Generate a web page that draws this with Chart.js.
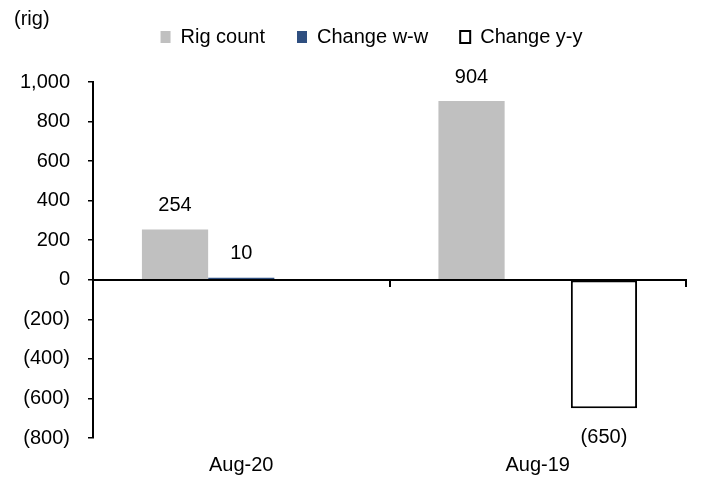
<!DOCTYPE html>
<html>
<head>
<meta charset="utf-8">
<title>Rig count</title>
<script src="https://cdn.jsdelivr.net/npm/chart.js@4/dist/chart.umd.min.js"></script>
<style>
  html, body { margin: 0; padding: 0; background: #ffffff; }
  #wrap { width: 708px; height: 477px; position: relative; }
</style>
</head>
<body>
<div id="wrap"><canvas id="chart" width="708" height="477"></canvas></div>
<script>
// Categories and series
const categories = ['Aug-20', 'Aug-19'];
const rigCount = [254, 904];
const changeWoW = [10, null];
const changeYoY = [null, -650];

// Value axis ticks
const yMin = -800;
const yMax = 1000;
const yStep = 200;

const unitLabel = '(rig)';
const FONT = 'Liberation Sans, Arial, sans-serif';
const FONT_SIZE = 20;

function fmtNumber(v) {
  const s = Math.abs(v).toLocaleString('en-US');
  return v < 0 ? '(' + s + ')' : s;
}

// Unit caption in the top-left corner
const unitCaption = {
  id: 'unitCaption',
  afterDraw(chart) {
    const ctx = chart.ctx;
    ctx.save();
    ctx.font = FONT_SIZE + 'px ' + FONT;
    ctx.fillStyle = '#000';
    ctx.textAlign = 'left';
    ctx.textBaseline = 'alphabetic';
    ctx.fillText(unitLabel, 14, 25);
    ctx.restore();
  }
};

// Value labels above positive bars and below negative bars
const valueLabels = {
  id: 'valueLabels',
  afterDatasetsDraw(chart) {
    const ctx = chart.ctx;
    ctx.save();
    ctx.font = FONT_SIZE + 'px ' + FONT;
    ctx.fillStyle = '#000';
    ctx.textAlign = 'center';
    ctx.textBaseline = 'middle';
    chart.data.datasets.forEach((ds, i) => {
      const meta = chart.getDatasetMeta(i);
      meta.data.forEach((bar, j) => {
        const v = ds.data[j];
        if (v === null || v === undefined) return;
        const y = v >= 0 ? bar.y - 24 : bar.y + 29;
        ctx.fillText(fmtNumber(v), bar.x, y);
      });
    });
    ctx.restore();
  }
};

// Legend: fixed height so the plot starts below it, and a horizontal
// band a little wider than the plot so the row sits left of centre
const legendBand = {
  id: 'legendBand',
  beforeInit(chart) {
    const origFit = chart.legend.fit;
    chart.legend.fit = function () {
      origFit.call(this);
      this.height = 87;
    };
  },
  afterLayout(chart) {
    chart.legend.left = 57;
    chart.legend.right = chart.chartArea.right;
  }
};

new Chart(document.getElementById('chart'), {
  type: 'bar',
  data: {
    labels: categories,
    datasets: [
      {
        label: 'Rig count',
        data: rigCount,
        xAxisID: 'x',
        backgroundColor: '#C0C0C0',
        borderWidth: 0
      },
      {
        label: 'Change w-w',
        data: changeWoW,
        xAxisID: 'x',
        backgroundColor: '#2F4F80',
        borderWidth: 0
      },
      {
        label: 'Change y-y',
        data: changeYoY,
        xAxisID: 'x',
        backgroundColor: '#FFFFFF',
        borderColor: '#000000',
        borderWidth: 2,
        borderSkipped: false
      }
    ]
  },
  options: {
    responsive: false,
    devicePixelRatio: 1,
    animation: false,
    categoryPercentage: 0.67,
    barPercentage: 1.0,
    layout: { padding: { left: 0, right: 22, top: -5, bottom: 0 } },
    font: { family: FONT, size: FONT_SIZE },
    color: '#000',
    plugins: {
      tooltip: { enabled: false },
      legend: {
        position: 'top',
        align: 'center',
        labels: {
          color: '#000',
          font: { family: FONT, size: FONT_SIZE },
          boxWidth: 10,
          boxHeight: 12,
          padding: 32
        }
      }
    },
    scales: {
      x: {
        type: 'category',
        position: 'bottom',
        offset: true,
        afterFit(scale) { scale.height = 39; },
        grid: { display: false, drawTicks: false },
        border: { display: false },
        ticks: {
          color: '#000',
          font: { family: FONT, size: FONT_SIZE },
          padding: 15,
          maxRotation: 0
        }
      },
      xZero: {
        type: 'category',
        position: { y: 0 },
        offset: true,
        afterFit(scale) { scale.height = 0; },
        grid: {
          offset: true,
          drawOnChartArea: false,
          drawTicks: true,
          tickLength: 6,
          color: '#000',
          lineWidth: 2
        },
        border: { display: true, color: '#000', width: 2 },
        ticks: { display: false }
      },
      y: {
        type: 'linear',
        position: 'left',
        min: yMin,
        max: yMax,
        afterFit(scale) { scale.width = 93; },
        grid: {
          drawOnChartArea: false,
          drawTicks: true,
          tickLength: 5,
          color: '#000',
          lineWidth: 1.5
        },
        border: { display: true, color: '#000', width: 2 },
        ticks: {
          stepSize: yStep,
          color: '#000',
          font: { family: FONT, size: FONT_SIZE },
          padding: 18,
          callback: (v) => fmtNumber(v)
        }
      }
    }
  },
  plugins: [unitCaption, valueLabels, legendBand]
});
</script>
</body>
</html>
